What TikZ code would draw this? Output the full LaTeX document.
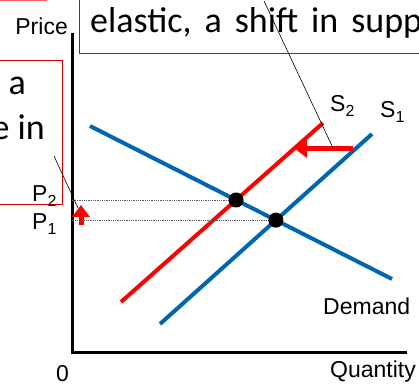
\documentclass[tikz,border=0pt]{standalone}
\usepackage{fontspec}
\setmainfont{Liberation Sans}
\newfontfamily\boxfont{Carlito}
\usetikzlibrary{arrows.meta}
\definecolor{supblue}{RGB}{0,102,178}
\definecolor{shiftred}{RGB}{255,0,0}
\newcommand{\lbl}[2]{#1\raisebox{-5pt}{\fontsize{16}{16}\selectfont #2}}

\begin{document}
\begin{tikzpicture}[x=1pt, y=1pt,
  every node/.style={font=\fontsize{23}{23}\selectfont, inner sep=0pt},
  boxtext/.style={font=\boxfont\fontsize{36}{36}\selectfont},
  curve/.style={line width=4pt, supblue},
  shiftline/.style={line width=4pt, shiftred},
  guide/.style={densely dotted, gray!70!black, line width=0.8pt},
  callbox/.style={draw=red!85!black, line width=0.8pt},
  pointer/.style={line width=5pt, shiftred, -{Triangle[width=17pt,length=12pt]}},
  dot/.style={circle, fill=black, minimum size=15pt}]
  \useasboundingbox (0,0) rectangle (419,383);
  \clip (0,0) rectangle (419,383);

  % Text boxes (cut off)
  \draw[callbox] (79,330) rectangle (440,400);
  \node[anchor=base west, boxtext] (toptxt) at (90,350) {\spaceskip=13pt\relax elastic, a shift in supp};
  \draw[callbox] (-10,179) rectangle (62,323);
  \node[anchor=base east, boxtext] (lefta) at (26,288) {a};
  \node[anchor=base east, boxtext] (leftein) at (45,243) {e in};
  \draw[red!60, line width=1pt] (0,382.5) -- (47,382.5);

  % Axes
  \coordinate (ytop) at (72,350);
  \coordinate (orig) at (72,31);
  \coordinate (xend) at (407,31);
  \draw[line width=3pt] (ytop) -- (orig) -- (xend);
  \node[anchor=base east] (price) at (68,348) {Price};
  \node[anchor=base] (zero) at (62.5,2) {0};
  \node[anchor=base west] (qty) at (330,6) {Quantity};

  % Demand and supply
  \coordinate (d1) at (90,257);
  \coordinate (d2) at (392,104);
  \coordinate (s1a) at (160,59);
  \coordinate (s1b) at (372,249);
  \coordinate (s2a) at (121,81);
  \coordinate (s2b) at (323,260);
  \draw[curve] (d1) -- (d2);
  \draw[curve] (s1a) -- (s1b);
  \draw[shiftline] (s2a) -- (s2b);
  \node[anchor=base west] (dem) at (323,69) {Demand};
  \node[anchor=base west] (s2lbl) at (330,271) {\lbl{S}{2}};
  \node[anchor=base west] (s1lbl) at (380,265) {\lbl{S}{1}};

  % Equilibria
  \coordinate (e1) at (intersection of d1--d2 and s1a--s1b);
  \coordinate (e2) at (intersection of d1--d2 and s2a--s2b);
  \draw[guide] (e2) -- (orig |- e2);
  \draw[guide] (e1) -- (orig |- e1);
  \node[dot] (eq2) at (e2) {};
  \node[dot] (eq1) at (e1) {};
  \node[anchor=base west] (p2) at (32,182) {\lbl{P}{2}};
  \node[anchor=base west] (p1) at (32,154) {\lbl{P}{1}};

  % Shift arrows
  \coordinate (upfrom) at (81,158);
  \coordinate (upto) at (81,178);
  \coordinate (leftfrom) at (353,234);
  \coordinate (leftto) at (295,234);
  \draw[pointer] (upfrom) -- (upto);
  \draw[pointer] (leftfrom) -- (leftto);

  % Callout lines
  \coordinate (topcall) at (264,382);
  \coordinate (topend) at (333,235);
  \coordinate (leftcall) at (54,227);
  \coordinate (leftend) at (78,175);
  \draw[line width=0.6pt] (topcall) -- (topend);
  \draw[line width=0.6pt] (leftcall) -- (leftend);
\end{tikzpicture}
\end{document}
